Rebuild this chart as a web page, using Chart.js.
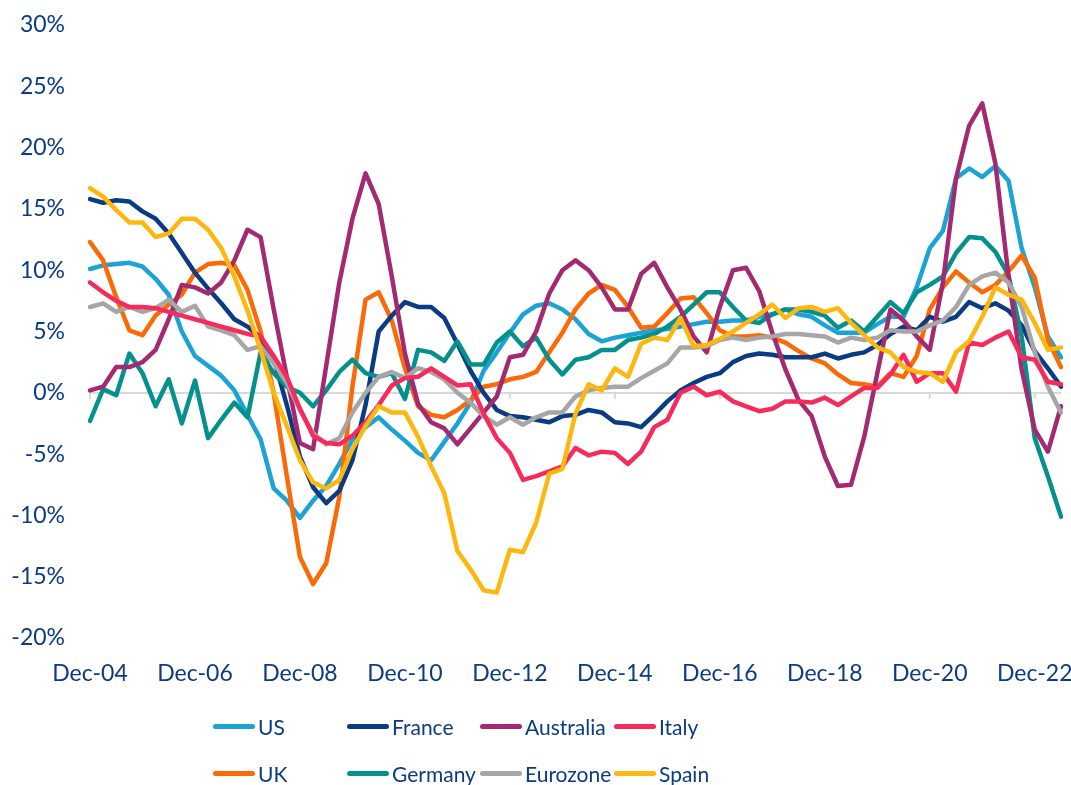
<!DOCTYPE html>
<html>
<head>
<meta charset="utf-8">
<script src="https://cdn.jsdelivr.net/npm/chart.js@4.4.0/dist/chart.umd.min.js"></script>
<style>
    body { margin: 0; background: #ffffff; }
    #wrap { position: relative; width: 1071px; height: 785px; overflow: hidden; }
    #legend { position: absolute; left: 0; top: 0; width: 1071px; height: 785px; pointer-events: none; }
    .legend-item { position: absolute; display: flex; align-items: center; font-family: Lato, sans-serif; font-size: 21px; color: #0b3b82; white-space: nowrap; }
    .legend-line { width: 42px; height: 5px; border-radius: 3px; margin-right: 3px; }
</style>
</head>
<body>
<div id="wrap">
    <canvas id="chart" width="1071" height="700"></canvas>
    <div id="legend"></div>
</div>
<script>
// Quarterly series, Dec-04 .. Jun-23 (75 quarters)
const startYear = 2004;
const quarterCount = 75;
const monthNames = ['Mar', 'Jun', 'Sep', 'Dec'];
const tickLabels = ['Dec-04', 'Dec-06', 'Dec-08', 'Dec-10', 'Dec-12', 'Dec-14', 'Dec-16', 'Dec-18', 'Dec-20', 'Dec-22'];
const yTicks = [-20, -15, -10, -5, 0, 5, 10, 15, 20, 25, 30];

const quarters = [];
for (let i = 0; i < quarterCount; i++) {
    const q = (3 + i) % 4;
    const year = startYear + Math.floor((3 + i) / 4);
    quarters.push(monthNames[q] + '-' + String(year).slice(2));
}

const usValues = [10.1, 10.4, 10.5, 10.6, 10.3, 9.3, 8.0, 5.0, 3.0, 2.2, 1.4, 0.2, -1.8, -3.8, -7.8, -8.8, -10.2, -8.8, -7.6, -5.8,
    -3.8, -2.8, -2.0, -3.0, -3.9, -4.9, -5.5, -4.0, -2.5, -0.8, 1.8, 3.3, 4.9, 6.4, 7.1, 7.3, 6.8, 6.0, 4.8, 4.2,
    4.5, 4.7, 4.9, 5.1, 5.2, 5.4, 5.6, 5.8, 5.8, 5.9, 5.9, 6.2, 6.4, 6.8, 6.4, 6.2, 5.5, 4.9, 4.9, 4.9,
    5.6, 6.2, 6.2, 8.6, 11.8, 13.2, 17.5, 18.3, 17.6, 18.5, 17.3, 11.8, 8.6, 4.6, 2.9];

const ukValues = [12.3, 10.8, 7.8, 5.1, 4.7, 6.3, 7.2, 8.0, 9.8, 10.5, 10.6, 10.4, 8.4, 5.0, 0.0, -6.8, -13.4, -15.6, -13.9, -8.5,
    0.5, 7.6, 8.2, 5.9, 2.0, -1.1, -1.8, -2.0, -1.4, -0.6, 0.5, 0.7, 1.1, 1.3, 1.7, 3.3, 4.9, 6.8, 8.1, 8.8,
    8.4, 7.0, 5.3, 5.4, 6.5, 7.7, 7.8, 6.5, 5.1, 4.6, 4.6, 4.7, 4.5, 4.1, 3.4, 2.8, 2.4, 1.5, 0.8, 0.7,
    0.5, 1.6, 1.3, 3.0, 6.8, 8.6, 9.9, 9.0, 8.2, 8.8, 9.9, 11.2, 9.4, 4.3, 2.1];

const franceValues = [15.8, 15.5, 15.7, 15.6, 14.8, 14.2, 13.0, 11.4, 9.8, 8.5, 7.3, 6.0, 5.4, 4.5, 2.8, -1.0, -5.2, -7.7, -9.0, -8.0,
    -5.5, -1.0, 5.0, 6.3, 7.4, 7.0, 7.0, 6.1, 4.0, 1.8, 0.0, -1.4, -1.9, -2.0, -2.2, -2.4, -1.9, -1.8, -1.4, -1.6,
    -2.4, -2.5, -2.8, -1.8, -0.7, 0.2, 0.8, 1.3, 1.6, 2.5, 3.0, 3.2, 3.1, 2.9, 2.9, 2.9, 3.2, 2.8, 3.1, 3.3,
    3.9, 4.8, 5.4, 5.1, 6.2, 5.8, 6.2, 7.4, 6.9, 7.3, 6.7, 5.5, 3.4, 2.0, 0.5];

const germanyValues = [-2.3, 0.3, -0.2, 3.2, 1.6, -1.1, 1.1, -2.5, 1.0, -3.7, -2.2, -0.8, -2.0, 3.3, 1.6, 0.5, 0.0, -1.1, 0.2, 1.7,
    2.7, 1.6, 1.3, 1.6, -0.5, 3.5, 3.3, 2.6, 4.2, 2.3, 2.3, 4.1, 5.0, 3.8, 4.5, 2.7, 1.5, 2.7, 2.9, 3.5,
    3.5, 4.3, 4.5, 4.8, 5.4, 6.2, 7.2, 8.2, 8.2, 7.0, 5.9, 5.7, 6.4, 6.8, 6.8, 6.6, 6.3, 5.3, 5.9, 5.0,
    6.2, 7.4, 6.5, 8.2, 8.8, 9.5, 11.4, 12.7, 12.6, 11.5, 9.6, 4.6, -3.7, -6.8, -10.1];

const australiaValues = [0.2, 0.5, 2.1, 2.1, 2.5, 3.5, 6.0, 8.8, 8.6, 8.1, 9.0, 10.8, 13.3, 12.7, 6.8, 1.3, -4.1, -4.6, 2.2, 9.0,
    14.2, 17.9, 15.4, 9.5, 3.2, -0.9, -2.4, -2.9, -4.2, -2.9, -1.6, -0.3, 2.9, 3.1, 5.0, 8.1, 10.0, 10.8, 10.0, 8.6,
    6.8, 6.8, 9.7, 10.6, 8.6, 6.8, 4.6, 3.3, 7.0, 10.0, 10.2, 8.3, 4.9, 1.9, -0.6, -1.9, -5.2, -7.6, -7.5, -3.6,
    1.6, 6.8, 5.9, 4.6, 3.5, 9.0, 17.5, 21.8, 23.6, 18.7, 9.5, 1.9, -3.0, -4.8, -1.1];

const eurozoneValues = [7.0, 7.3, 6.6, 7.0, 6.6, 6.9, 7.6, 6.6, 7.1, 5.4, 5.1, 4.7, 3.5, 3.8, 2.4, 0.8, -1.4, -3.3, -4.2, -3.7,
    -1.6, 0.0, 1.3, 1.7, 1.2, 2.0, 1.7, 1.1, 0.0, -0.8, -1.9, -2.6, -2.0, -2.6, -2.0, -1.6, -1.6, -0.3, 0.2, 0.4,
    0.5, 0.5, 1.2, 1.8, 2.4, 3.7, 3.7, 3.8, 4.3, 4.5, 4.3, 4.5, 4.6, 4.8, 4.8, 4.7, 4.6, 4.1, 4.5, 4.3,
    4.5, 5.1, 5.0, 5.0, 5.5, 5.9, 7.0, 8.8, 9.5, 9.8, 9.0, 7.0, 3.3, 0.5, -1.6];

const italyValues = [9.0, 8.2, 7.5, 7.0, 7.0, 6.9, 6.6, 6.3, 6.0, 5.7, 5.4, 5.1, 4.8, 4.6, 3.0, 1.3, -1.3, -3.5, -4.1, -4.2,
    -3.5, -2.4, -1.0, 0.6, 1.2, 1.3, 2.0, 1.3, 0.6, 0.7, -1.7, -3.7, -4.9, -7.1, -6.8, -6.4, -6.0, -4.5, -5.1, -4.8,
    -4.9, -5.8, -4.8, -2.8, -2.2, 0.0, 0.5, -0.2, 0.1, -0.7, -1.1, -1.5, -1.3, -0.7, -0.7, -0.8, -0.4, -1.0, -0.3, 0.4,
    0.4, 1.5, 3.1, 0.9, 1.6, 1.6, 0.1, 4.1, 3.9, 4.5, 5.0, 2.9, 2.7, 0.9, 0.7];

const spainValues = [16.7, 16.0, 14.9, 13.9, 13.9, 12.7, 13.0, 14.2, 14.2, 13.3, 11.8, 9.5, 6.7, 3.5, 0.0, -2.7, -5.5, -7.3, -7.8, -7.1,
    -4.6, -2.7, -1.1, -1.6, -1.6, -3.6, -6.0, -8.2, -12.9, -14.4, -16.1, -16.3, -12.8, -13.0, -10.6, -6.6, -6.2, -1.7, 0.7, 0.2,
    2.0, 1.3, 4.0, 4.5, 4.3, 6.1, 3.8, 3.9, 4.4, 5.0, 5.7, 6.4, 7.2, 6.1, 6.9, 7.0, 6.6, 6.9, 5.7, 4.7,
    3.7, 3.3, 2.1, 1.7, 1.6, 0.9, 3.3, 4.2, 6.2, 8.6, 8.0, 7.6, 5.7, 3.5, 3.7];

const seriesNames = ['US', 'UK', 'France', 'Germany', 'Australia', 'Eurozone', 'Italy', 'Spain'];
const seriesValues = [usValues, ukValues, franceValues, germanyValues, australiaValues, eurozoneValues, italyValues, spainValues];
const seriesColors = ['#1ba3d6', '#fb6a06', '#0b3b82', '#05918b', '#a32a70', '#a6a6a6', '#f72a5c', '#fdb70e'];

// Legend layout: 4 columns x 2 rows, filled column by column
const legendCols = [213, 347, 480, 614];
const legendRows = [726, 773];

const textColor = '#0b3b82';
const fontFamily = 'Lato, sans-serif';

function buildLegend() {
    const legend = document.getElementById('legend');
    seriesNames.forEach((name, i) => {
        const item = document.createElement('div');
        item.className = 'legend-item';
        item.style.left = legendCols[Math.floor(i / 2)] + 'px';
        item.style.top = (legendRows[i % 2] - 14) + 'px';
        item.style.height = '28px';
        item.innerHTML = `<span class="legend-line" style="background:${seriesColors[i]}"></span><span>${name}</span>`;
        legend.appendChild(item);
    });
}

// Small tick marks hanging below the zero line at each labelled date
const zeroTicks = {
    id: 'zeroTicks',
    beforeDatasetsDraw(chart) {
        const { ctx, scales: { x, y } } = chart;
        const y0 = y.getPixelForValue(0);
        ctx.save();
        ctx.strokeStyle = '#d9d9d9';
        ctx.lineWidth = 2;
        quarters.forEach((label, i) => {
            if (!tickLabels.includes(label)) return;
            const px = x.getPixelForValue(i);
            ctx.beginPath();
            ctx.moveTo(px, y0);
            ctx.lineTo(px, y0 + 6);
            ctx.stroke();
        });
        ctx.restore();
    }
};

function renderChart() {
    const ctx = document.getElementById('chart').getContext('2d');
    const datasets = seriesNames.map((name, i) => ({
        label: name,
        data: seriesValues[i],
        borderColor: seriesColors[i],
        backgroundColor: seriesColors[i],
        borderWidth: 4.5,
        borderJoinStyle: 'round',
        borderCapStyle: 'round',
        pointRadius: 0,
        tension: 0,
        fill: false,
        order: seriesNames.length - i
    }));

    new Chart(ctx, {
        type: 'line',
        data: { labels: quarters, datasets: datasets },
        plugins: [zeroTicks],
        options: {
            responsive: false,
            animation: false,
            devicePixelRatio: 1,
            layout: { padding: { top: 25, right: 10, left: 0, bottom: 0 } },
            plugins: {
                legend: { display: false },
                tooltip: { enabled: false }
            },
            scales: {
                x: {
                    grid: { display: false, drawTicks: false },
                    border: { display: false },
                    ticks: {
                        autoSkip: false,
                        maxRotation: 0,
                        padding: 22,
                        color: textColor,
                        font: { family: fontFamily, size: 23 },
                        callback: function(value, index) {
                            const label = quarters[index];
                            return tickLabels.includes(label) ? label : null;
                        }
                    },
                    afterFit: function(scale) {
                        scale.height = 62;
                        scale.paddingLeft = 0;
                        scale.paddingRight = 0;
                    }
                },
                y: {
                    min: yTicks[0],
                    max: yTicks[yTicks.length - 1],
                    grid: {
                        drawTicks: false,
                        lineWidth: 2,
                        color: function(context) {
                            return context.tick && context.tick.value === 0 ? '#d9d9d9' : 'rgba(0,0,0,0)';
                        }
                    },
                    border: { display: false },
                    afterBuildTicks: function(scale) {
                        scale.ticks = yTicks.map(v => ({ value: v }));
                    },
                    ticks: {
                        padding: 25,
                        color: textColor,
                        font: { family: fontFamily, size: 23 },
                        callback: function(value) {
                            return value + '%';
                        }
                    },
                    afterFit: function(scale) {
                        scale.width = 90;
                        scale.paddingTop = 0;
                        scale.paddingBottom = 0;
                    }
                }
            }
        }
    });
}

buildLegend();
renderChart();
</script>
</body>
</html>
